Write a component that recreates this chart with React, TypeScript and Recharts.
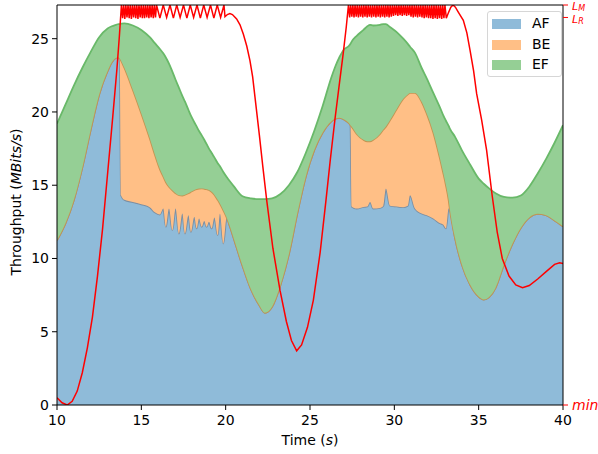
import React from 'react';
import { ComposedChart, Area, Line, XAxis, YAxis, ReferenceLine, Label } from 'recharts';

// sample times (s) for the stacked throughput
const times = [
  10, 10.5, 11, 11.5, 12, 12.5, 13, 13.25, 13.5, 13.64,
  13.72, 13.8, 14, 14.5, 15, 15.5, 15.8, 16.1, 16.3, 16.46,
  16.64, 16.84, 17.03, 17.23, 17.43, 17.59, 17.79, 17.94, 18.14, 18.28,
  18.42, 18.58, 18.73, 18.87, 19.01, 19.17, 19.33, 19.53, 19.66, 19.86,
  20.06, 20.26, 20.5, 21, 21.5, 22, 22.33, 22.75, 23.25, 23.75,
  24.25, 24.75, 25.25, 25.75, 26.25, 26.5, 26.75, 27, 27.3, 27.4,
  27.47, 27.77, 28.17, 28.4, 28.56, 28.75, 29.15, 29.35, 29.5, 29.74,
  30.14, 30.53, 30.8, 30.93, 31.22, 31.62, 31.92, 32.31, 32.71, 32.91,
  33.06, 33.22, 33.3, 33.6, 34, 34.5, 35, 35.3, 35.6, 36,
  36.5, 37, 37.5, 38, 38.5, 39, 39.5, 40,
];

// cumulative tops
const efTop = [
  19.2, 20.5, 21.8, 23.0, 24.1, 25.1, 25.7, 25.85, 25.95, 26.0,
  26.0, 26.02, 26.05, 25.9, 25.6, 25.1, 24.7, 24.3, 24.0, 23.7,
  23.3, 22.75, 22.2, 21.65, 21.1, 20.7, 20.15, 19.75, 19.3, 19.0,
  18.7, 18.4, 18.1, 17.8, 17.5, 17.2, 16.9, 16.5, 16.3, 15.9,
  15.56, 15.25, 14.9, 14.25, 14.1, 14.05, 14.05, 14.1, 14.4, 15.0,
  15.9, 17.2, 18.7, 20.4, 22.3, 23.1, 23.75, 24.25, 24.5, 24.65,
  24.8, 25.2, 25.6, 25.85, 25.95, 25.9, 25.95, 26.0, 26.0, 25.8,
  25.45, 25.0, 24.65, 24.45, 24.05, 23.0, 22.3, 21.3, 20.3, 19.75,
  19.4, 19.05, 18.85, 18.3, 17.4, 16.4, 15.45, 15.1, 14.8, 14.45,
  14.2, 14.15, 14.3, 14.9, 15.8, 16.8, 17.9, 19.1,
];
const beTop = [
  11.25, 12.4, 14.0, 16.2, 18.8, 21.2, 22.8, 23.4, 23.7, 23.74,
  23.65, 23.5, 23.0, 21.5, 19.9, 18.2, 17.1, 16.1, 15.6, 15.2,
  14.9, 14.65, 14.45, 14.32, 14.3, 14.35, 14.45, 14.55, 14.68, 14.74,
  14.77, 14.78, 14.76, 14.73, 14.68, 14.55, 14.35, 14.0, 13.75, 13.3,
  12.8, 12.16, 11.3, 9.5, 7.9, 6.8, 6.29, 6.7, 8.2, 10.3,
  13.1, 15.6, 17.4, 18.6, 19.35, 19.55, 19.6, 19.5, 19.25, 19.1,
  19.0, 18.5, 18.1, 18.0, 18.0, 18.1, 18.5, 18.8, 19.0, 19.43,
  20.2, 20.9, 21.2, 21.3, 21.3, 20.7, 19.9, 18.6, 16.8, 15.8,
  15.0, 14.0, 13.3, 11.4, 9.6, 8.2, 7.4, 7.2, 7.35, 8.0,
  9.6, 11.0, 12.1, 12.8, 13.05, 12.95, 12.6, 12.2,
];
const afTop = [
  11.25, 12.4, 14.0, 16.2, 18.8, 21.2, 22.8, 23.4, 23.7, 23.74,
  23.5, 14.3, 14.0, 13.85, 13.7, 13.5, 13.15, 13.0, 13.41, 12.16,
  13.41, 11.93, 13.41, 11.7, 13.07, 11.7, 12.95, 11.81, 12.84, 12.05,
  12.73, 12.16, 12.56, 12.16, 12.5, 12.05, 12.79, 11.59, 13.07, 11.02,
  12.8, 12.16, 11.3, 9.5, 7.9, 6.8, 6.29, 6.7, 8.2, 10.3,
  13.1, 15.6, 17.4, 18.6, 19.35, 19.55, 19.6, 19.5, 19.25, 19.1,
  13.55, 13.41, 13.52, 13.55, 13.86, 13.41, 13.45, 13.6, 14.77, 13.6,
  13.55, 13.5, 13.6, 14.32, 13.41, 13.07, 12.95, 12.73, 12.4, 12.3,
  12.05, 13.41, 13.3, 11.4, 9.6, 8.2, 7.4, 7.2, 7.35, 8.0,
  9.6, 11.0, 12.1, 12.8, 13.05, 12.95, 12.6, 12.2,
];

// red level curve [time, level], drawn against the right axis
const redLevel: [number, number][] = [
  [10.0, 0.5], [10.3, 0.15], [10.6, 0.0], [10.9, 0.25], [11.2, 0.95], [11.5, 2.2],
  [11.8, 3.9], [12.1, 6.0], [12.4, 8.8], [12.7, 12.0], [13.0, 15.8], [13.3, 19.6],
  [13.55, 22.9], [13.7, 25.2], [13.82, 27.3],
  [13.89, 26.4], [13.95, 27.3], [14.02, 26.35], [14.08, 27.3], [14.15, 26.45], [14.21, 27.3],
  [14.28, 26.4], [14.34, 27.3], [14.41, 26.35], [14.47, 27.3], [14.54, 26.45], [14.6, 27.3],
  [14.67, 26.4], [14.73, 27.3], [14.8, 26.35], [14.86, 27.3], [14.93, 26.45], [14.99, 27.3],
  [15.06, 26.4], [15.12, 27.3], [15.19, 26.4], [15.25, 27.3], [15.32, 26.45], [15.38, 27.3],
  [15.45, 26.4], [15.51, 27.3], [15.58, 26.45], [15.64, 27.3], [15.71, 26.4], [15.77, 27.3],
  [15.84, 26.45], [15.9, 27.3],
  [16.1, 26.4], [16.3, 27.3], [16.5, 26.45], [16.7, 27.3], [16.9, 26.4], [17.1, 27.3],
  [17.3, 26.45], [17.5, 27.3], [17.7, 26.4], [17.9, 27.3], [18.1, 26.45], [18.3, 27.3],
  [18.5, 26.4], [18.7, 27.3], [18.9, 26.45], [19.1, 27.3], [19.3, 26.4], [19.5, 27.3],
  [19.7, 26.45], [19.9, 27.3],
  [19.96, 26.5], [20.1, 26.65], [20.25, 26.72], [20.4, 26.65], [20.65, 26.35], [20.85, 25.95],
  [21.05, 25.3], [21.25, 24.5], [21.44, 23.5], [21.6, 22.4], [21.74, 21.0], [22.0, 18.4],
  [22.2, 16.3], [22.43, 14.0], [22.8, 10.7], [23.22, 7.84], [23.6, 5.7], [23.9, 4.4],
  [24.21, 3.7], [24.5, 4.1], [24.85, 5.3], [25.2, 7.16], [25.6, 10.4], [25.95, 14.0],
  [26.2, 16.7], [26.48, 19.5], [26.75, 22.0], [26.97, 24.0], [27.15, 25.8], [27.28, 27.3],
  [27.35, 26.45], [27.41, 27.3], [27.48, 26.5], [27.54, 27.3], [27.61, 26.45], [27.67, 27.3],
  [27.74, 26.5], [27.8, 27.3], [27.87, 26.45], [27.93, 27.3], [28.0, 26.5], [28.06, 27.3],
  [28.13, 26.45], [28.19, 27.3], [28.26, 26.5], [28.32, 27.3], [28.39, 26.45], [28.45, 27.3],
  [28.52, 26.5], [28.58, 27.3], [28.65, 26.45], [28.71, 27.3], [28.78, 26.5], [28.84, 27.3],
  [28.91, 26.45], [28.97, 27.3], [29.04, 26.5], [29.1, 27.3], [29.17, 26.45], [29.23, 27.3],
  [29.3, 26.5], [29.36, 27.3], [29.43, 26.45], [29.49, 27.3], [29.56, 26.5], [29.62, 27.3],
  [29.69, 26.45], [29.75, 27.3], [29.82, 26.5], [29.88, 27.3], [29.95, 26.55], [30.01, 27.3],
  [30.08, 26.6], [30.14, 27.3], [30.21, 26.55], [30.27, 27.3], [30.34, 26.6], [30.4, 27.3],
  [30.47, 26.55], [30.53, 27.3], [30.6, 26.6], [30.66, 27.3], [30.73, 26.55], [30.79, 27.3],
  [30.86, 26.6], [30.92, 27.3], [30.99, 26.5], [31.05, 27.3], [31.12, 26.45], [31.18, 27.3],
  [31.25, 26.5], [31.31, 27.3], [31.38, 26.45], [31.44, 27.3], [31.51, 26.5], [31.57, 27.3],
  [31.64, 26.45], [31.7, 27.3], [31.77, 26.4], [31.83, 27.3], [31.9, 26.45], [31.96, 27.3],
  [32.03, 26.4], [32.09, 27.3], [32.16, 26.4], [32.22, 27.3], [32.29, 26.35], [32.35, 27.3],
  [32.42, 26.4], [32.48, 27.3], [32.55, 26.35], [32.61, 27.3], [32.68, 26.4], [32.74, 27.3],
  [32.81, 26.35], [32.87, 27.3], [32.94, 26.4], [33.0, 27.3],
  [33.08, 26.4], [33.2, 26.75], [33.35, 27.15], [33.48, 27.3], [33.62, 27.15], [33.8, 26.8],
  [34.09, 26.25], [34.3, 25.4], [34.49, 24.2], [34.7, 22.8], [34.88, 21.25], [35.18, 19.43],
  [35.47, 17.4], [35.8, 14.3], [36.1, 11.8], [36.4, 10.0], [36.8, 8.8], [37.2, 8.2],
  [37.6, 8.0], [38.0, 8.15], [38.5, 8.6], [39.0, 9.1], [39.5, 9.6], [39.8, 9.7], [40.0, 9.65],
];

const xTicks = [10, 15, 20, 25, 30, 35, 40];
const yTicks = [0, 5, 10, 15, 20, 25];
const rateTicks = [0, 26.45, 27.3];
const rateTickNames = ['min', 'L_R', 'L_M'];

const YMAX = 27.3;
const FONT = '"DejaVu Sans", sans-serif';

const series = [
  { key: 'AF', fill: '#8fbbd9', stroke: '#7d8fa2' },
  { key: 'BE', fill: '#ffbf86', stroke: '#c39552' },
  { key: 'EF', fill: '#95cf95', stroke: '#69b969' },
];

const rows = times.map((t, i) => ({
  t,
  AF: afTop[i],
  BE: +(beTop[i] - afTop[i]).toFixed(3),
  EF: +(efTop[i] - beTop[i]).toFixed(3),
}));
const redRows = redLevel.map(([t, v]) => ({ t, v }));

function RateTick(props: any) {
  const { x, y, payload } = props;
  const name = rateTickNames[rateTicks.indexOf(payload.value)] ?? '';
  const [base, sub] = name.split('_');
  // L_M and L_R sit almost on top of each other, nudge them apart a little
  const shift = name === 'L_M' ? 1 : name === 'L_R' ? 2 : 0;
  return (
    <text
      x={x}
      y={y + shift}
      fill="#ff0000"
      fontStyle="italic"
      fontSize={sub ? 11 : 14}
      fontFamily={FONT}
      dominantBaseline="central"
    >
      {base}
      {sub && (
        <tspan fontSize={8} dy={2}>
          {sub}
        </tspan>
      )}
    </text>
  );
}

function LegendBox() {
  return (
    <div
      style={{
        position: 'absolute',
        left: 487,
        top: 11,
        width: 75,
        height: 66,
        boxSizing: 'border-box',
        border: '1px solid #d6d6d6',
        borderRadius: 3,
        background: 'rgba(255,255,255,0.8)',
        fontFamily: FONT,
        fontSize: 14,
      }}
    >
      {series.map((s, i) => (
        <div key={s.key} style={{ position: 'absolute', left: 4, top: 6 + i * 20.5, height: 12, width: 70 }}>
          <div style={{ position: 'absolute', left: 0, top: 1, width: 29, height: 10, background: s.fill }} />
          <div style={{ position: 'absolute', left: 40, top: -3, lineHeight: '17px', color: '#000' }}>{s.key}</div>
        </div>
      ))}
    </div>
  );
}

export default function App() {
  return (
    <div style={{ position: 'absolute', left: 0, top: 0, width: 598, height: 454, background: '#fff' }}>
      <ComposedChart
        width={598}
        height={454}
        data={rows}
        margin={{ top: 5, right: 0, bottom: 0, left: 0 }}
        style={{ fontFamily: FONT }}
      >
        <XAxis
          dataKey="t"
          type="number"
          domain={[10, 40]}
          ticks={xTicks}
          allowDataOverflow
          interval={0}
          height={49}
          tickSize={5}
          tickMargin={5}
          stroke="#000"
          tick={{ fill: '#000', fontSize: 14 }}
        >
          <Label
            content={() => (
              <text x={310} y={440} textAnchor="middle" dominantBaseline="central" fontSize={14} fill="#000">
                Time (<tspan fontStyle="italic">s</tspan>)
              </text>
            )}
          />
        </XAxis>
        <YAxis
          yAxisId="left"
          width={57}
          domain={[0, YMAX]}
          ticks={yTicks}
          allowDataOverflow
          interval={0}
          tickSize={5}
          tickMargin={3}
          stroke="#000"
          tick={{ fill: '#000', fontSize: 14 }}
        >
          <Label
            content={() => (
              <text
                x={16}
                y={202}
                transform="rotate(-90 16 202)"
                textAnchor="middle"
                dominantBaseline="central"
                fontSize={14}
                fill="#000"
              >
                Throughput (<tspan fontStyle="italic">MBits/s</tspan>)
              </text>
            )}
          />
        </YAxis>
        <YAxis
          yAxisId="right"
          orientation="right"
          width={35}
          domain={[0, YMAX]}
          ticks={rateTicks}
          allowDataOverflow
          interval={0}
          tickSize={5}
          tickMargin={4}
          stroke="#000"
          tickLine={{ stroke: '#ff0000' }}
          tick={<RateTick />}
        />
        {series.map((s) => (
          <Area
            key={s.key}
            yAxisId="left"
            dataKey={s.key}
            stackId="tp"
            type="monotone"
            fill={s.fill}
            fillOpacity={1}
            stroke={s.stroke}
            strokeWidth={1.8}
            dot={false}
            activeDot={false}
            isAnimationActive={false}
          />
        ))}
        <Line
          yAxisId="right"
          data={redRows}
          dataKey="v"
          type="linear"
          stroke="#ff0000"
          strokeWidth={1.5}
          dot={false}
          activeDot={false}
          isAnimationActive={false}
        />
        <ReferenceLine yAxisId="left" y={YMAX} stroke="#000" strokeWidth={1} ifOverflow="extendDomain" />
      </ComposedChart>
      <LegendBox />
    </div>
  );
}
